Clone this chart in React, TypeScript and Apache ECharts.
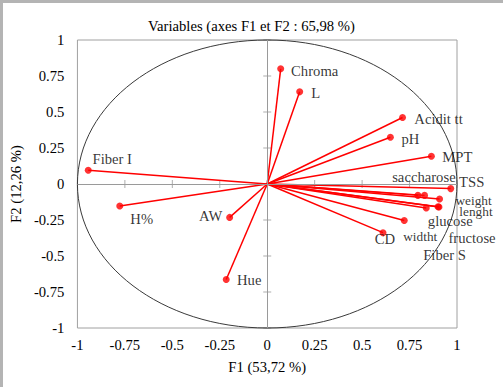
import React, { useEffect, useRef } from "react";
import * as echarts from "echarts";

const FONT = '"Liberation Serif", "Times New Roman", serif';

const variables = ["Chroma", "L", "Fiber I", "H%", "AW", "Hue", "Acidit tt", "pH", "MPT", "saccharose", "TSS", "weight", "lenght", "glucose", "widtht", "fructose", "Fiber S", "CD"];
const f1Values = [0.071, 0.171, -0.943, -0.777, -0.198, -0.216, 0.713, 0.649, 0.865, 0.794, 0.967, 0.908, 0.905, 0.838, 0.722, 0.9, 0.829, 0.61];
const f2Values = [0.80, 0.64, 0.095, -0.153, -0.232, -0.663, 0.462, 0.325, 0.193, -0.079, -0.032, -0.104, -0.16, -0.167, -0.253, -0.158, -0.079, -0.338];

// label layout (pixel offsets of label centre from the point)
const labelOffsets: [number, number][] = [
  [34, 2], [16, 1], [24, -11], [22, 13], [-19, -1], [23, 1], [36, 2], [20, 2], [26, 1],
  [6, -18], [21, -7], [34, 2], [37, 4], [24, 13], [16, 16], [34, 31], [20, 60], [2, 6],
];
const smallLabels = ["weight", "lenght", "widtht"];

const ticks = [-1, -0.75, -0.5, -0.25, 0, 0.25, 0.5, 0.75, 1];
const fmt = (v: number) => String(v);

export default function App() {
  const ref = useRef<HTMLDivElement>(null);
  useEffect(() => {
    if (!ref.current) return;
    const chart = echarts.init(ref.current, null, { renderer: "svg" });
    const axisGray = "#a0a0a0";
    const zeroColor = "#9a9a9a";
    const labelStyle = { fontFamily: FONT, fontSize: 14.67, color: "#000" };

    const points = variables.map((name, i) => {
      const small = smallLabels.includes(name);
      return {
        name,
        value: [f1Values[i], f2Values[i]],
        label: {
          show: true,
          position: "inside",
          align: "center",
          verticalAlign: "middle",
          offset: labelOffsets[i],
          formatter: name,
          fontFamily: FONT,
          fontSize: small ? 13.3 : 14.67,
          color: "#000",
        },
      };
    });

    chart.setOption({
      animation: false,
      backgroundColor: "#fff",
      title: {
        text: "Variables (axes F1 et F2 : 65,98 %)",
        left: "center",
        top: 13,
        textStyle: { fontFamily: FONT, fontSize: 14.67, fontWeight: "normal", color: "#000" },
      },
      graphic: [
        {
          type: "rect",
          left: 0,
          top: 0,
          shape: { width: 503, height: 392 },
          style: { fill: "transparent", stroke: "#b4b4b4", lineWidth: 3 },
          silent: true,
          z: 10,
        },
      ],
      grid: { left: 71, top: 40, width: 386, height: 288, show: true, borderColor: axisGray, borderWidth: 1 },
      xAxis: {
        type: "value", min: -1, max: 1, interval: 0.25, splitLine: { show: false },
        position: "bottom",
        axisLine: { show: false, onZero: false },
        axisTick: { show: false },
        axisLabel: { ...labelStyle, margin: 9, formatter: (v: number) => (ticks.includes(v) ? fmt(v) : "") },
        name: "F1 (53,72 %)",
        nameLocation: "middle",
        nameGap: 31,
        nameTextStyle: labelStyle,
      },
      yAxis: {
        type: "value", min: -1, max: 1, interval: 0.25, splitLine: { show: false },
        position: "left",
        axisLine: { show: false, onZero: false },
        axisTick: { show: false },
        axisLabel: { ...labelStyle, margin: 13, formatter: (v: number) => (ticks.includes(v) ? fmt(v) : "") },
        name: "F2 (12,26 %)",
        nameLocation: "middle",
        nameGap: 50,
        nameRotate: 90,
        nameTextStyle: labelStyle,
      },
      series: [
        {
          // zero lines and x tick marks
          type: "scatter",
          z: 1,
          silent: true,
          symbol: "rect",
          symbolSize: [1, 8],
          itemStyle: { color: zeroColor },
          data: ticks.map((t) => [t, 0]),
          markLine: {
            silent: true,
            symbol: ["none", "none"],
            label: { show: false },
            lineStyle: { color: zeroColor, width: 1, type: "solid" },
            data: [{ xAxis: 0 }, { yAxis: 0 }],
          },
        },
        {
          // y tick marks
          type: "scatter",
          z: 1,
          silent: true,
          symbol: "rect",
          symbolSize: [8, 1],
          itemStyle: { color: zeroColor },
          data: ticks.map((t) => [0, t]),
        },
        {
          type: "custom",
          data: [[0, 0]],
          silent: true,
          clip: false,
          z: 2,
          renderItem: (_params: any, api: any) => {
            const o = api.coord([0, 0]);
            const s = api.size([1, 1]);
            return {
              type: "ellipse",
              shape: { cx: o[0], cy: o[1], rx: s[0], ry: s[1] },
              style: { fill: null, stroke: "#3a3a3a", lineWidth: 1 },
            };
          },
        },
        {
          type: "custom",
          data: variables.map((_, i) => [f1Values[i], f2Values[i]]),
          silent: true,
          z: 3,
          renderItem: (_params: any, api: any) => {
            const o = api.coord([0, 0]);
            const p = api.coord([api.value(0), api.value(1)]);
            return {
              type: "line",
              shape: { x1: o[0], y1: o[1], x2: p[0], y2: p[1] },
              style: { stroke: "#ff0000", lineWidth: 1.5 },
            };
          },
        },
        {
          type: "scatter",
          z: 4,
          symbol: "circle",
          symbolSize: 7,
          itemStyle: { color: "#ff0000" },
          data: points,
        },
      ],
    });
    return () => chart.dispose();
  }, []);
  return <div ref={ref} style={{ position: "fixed", left: 0, top: 0, width: 503, height: 387 }} />;
}
